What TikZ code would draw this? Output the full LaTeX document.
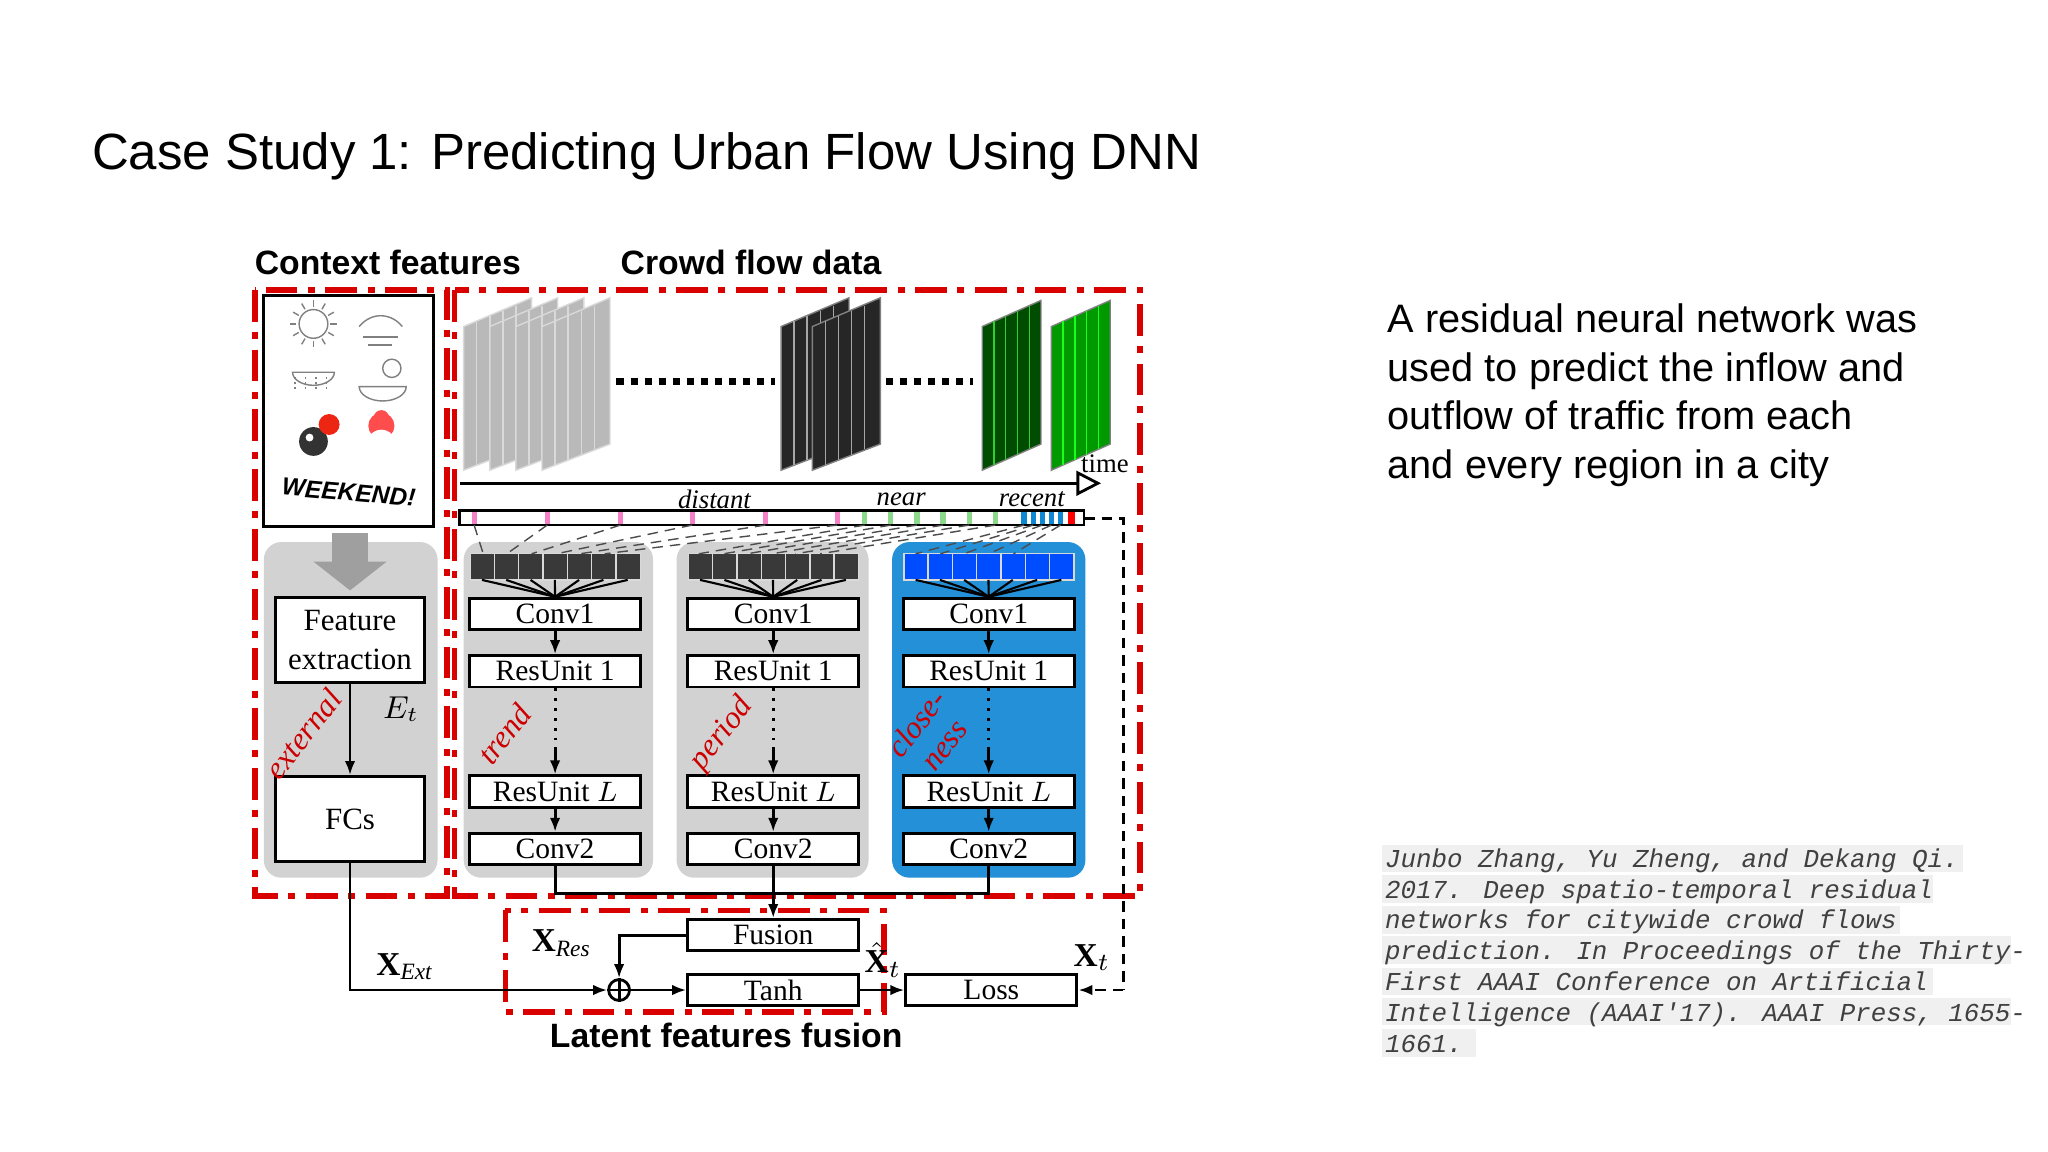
\documentclass[tikz,border=0pt]{standalone}
\usepackage{fontspec}
\setmainfont{Liberation Serif}
\newfontfamily\sans{Liberation Sans}
\newfontfamily\mono{Liberation Mono}
\usetikzlibrary{arrows.meta}
\begin{document}
\begin{tikzpicture}[x=0.013061cm,y=-0.013061cm,
 redbox/.style={draw=red!85!black,line width=1.6pt,dash pattern=on 9pt off 3pt on 2pt off 3pt},
 blk/.style={draw=black,fill=white,line width=0.8pt,minimum height=24*0.013061cm,inner sep=0pt,font=\fontsize{8.4}{9}\selectfont},
 lbl/.style={font=\sans\bfseries\fontsize{9.6}{11}\selectfont},
 arr/.style={-{Latex[length=4pt]},line width=0.8pt},
 panel/.style={fill=gray!35,rounded corners=5pt},
 red lab/.style={text=red!80!black,font=\itshape\fontsize{9}{10}\selectfont}]
\useasboundingbox (0,0) rectangle (1568,882);
\fill[white] (0,0) rectangle (1568,882);
% title
\node[anchor=base west,font=\sans\fontsize{14.5}{16}\selectfont,inner sep=0] (title) at (70,130) {Case Study 1: Predicting Urban Flow Using DNN};
% right text
\node[anchor=north west,align=left,inner sep=0,font=\sans\fontsize{11.3}{13.8}\selectfont] (desc) at (1062,232)
 {A residual neural network was\\used to predict the inflow and\\outflow of traffic from each\\and every region in a city};
\fill[gray!12] (1058,647) rectangle (1503,668);
\fill[gray!12] (1058,670) rectangle (1480,691);
\fill[gray!12] (1058,694) rectangle (1455,715);
\fill[gray!12] (1058,717) rectangle (1540,738);
\fill[gray!12] (1058,741) rectangle (1480,762);
\fill[gray!12] (1058,764) rectangle (1540,785);
\fill[gray!12] (1058,788) rectangle (1130,809);
\node[anchor=north west,align=left,inner sep=0,text=gray!50!black,font=\mono\itshape\fontsize{7.35}{8.8}\selectfont] (cite) at (1060,649)
 {Junbo Zhang, Yu Zheng, and Dekang Qi.\\2017. Deep spatio-temporal residual\\networks for citywide crowd flows\\prediction. In Proceedings of the Thirty-\\First AAAI Conference on Artificial\\Intelligence (AAAI'17). AAAI Press, 1655-\\1661.};
% headers
\node[lbl,anchor=base] (cf) at (297,210) {Context features};
\node[lbl,anchor=base] (cfd) at (575,210) {Crowd flow data};
\node[lbl,anchor=base] (lff) at (556,802) {Latent features fusion};
% red boxes
\draw[redbox] (195,222) rectangle (342,686);
\draw[redbox] (348,222) rectangle (873,686);
\draw[redbox] (387,697) rectangle (677,775);
% context icons
\draw[line width=0.8pt] (202,226) rectangle (332,403);
\draw[gray] (240,248) circle (11);
\foreach \a in {0,30,...,330} \draw[gray] (240,248)++(\a:13) -- ++(\a:5);
\draw[gray] (275,250) .. controls (285,238) and (300,240) .. (308,250);
\draw[gray] (278,258) -- (305,258) (282,264) -- (300,264);
\draw[gray] (224,285) arc (180:0:16 and 10) -- cycle;
\foreach \x in {226,234,242,250} \draw[gray,densely dotted] (\x,289) -- (\x,299);
\draw[gray] (275,296) arc (180:0:18 and 11) -- cycle;
\draw[gray] (300,282) circle (7);
\fill[black!80] (240,338) circle (11); \fill[white] (237,335) circle (3);
\fill[red!70!brown] (252,325) circle (8);
\fill[red!70] (292,326) circle (10); \fill[white] (292,340) circle (11); \fill[red!70] (292,320) circle (6);
\node[font=\sans\bfseries\itshape\fontsize{7}{8}\selectfont,rotate=-5] (wk) at (267,377) {WEEKEND!};
% left panel
\fill[panel] (202,415) rectangle (335,672);
\fill[gray!75] (254,408) rectangle (282,430); \fill[gray!75] (240,430) -- (296,430) -- (268,452) -- cycle;
\node[blk,minimum width=114*0.013061cm,minimum height=65*0.013061cm,align=center,font=\fontsize{8.8}{11}\selectfont] (fe) at (268,490) {Feature\\extraction};
\node[blk,minimum width=114*0.013061cm,minimum height=65*0.013061cm,font=\fontsize{8.8}{10}\selectfont] (fcs) at (268,627) {FCs};
\draw[arr] (fe) -- (fcs);
\node[red lab,rotate=52] (ext) at (232,562) {external};
\node[font=\itshape\fontsize{8.8}{10}\selectfont] (et) at (307,543) {$E_t$};
% frames
\foreach \x in {355,375,395,415} {\fill[gray!55,draw=gray!30] (\x,250) -- (\x+52,228) -- (\x+52,340) -- (\x,360) -- cycle;
 \foreach \k in {1,...,4} \draw[white!70!gray] (\x+\k*10,250-\k*4) -- (\x+\k*10,360-\k*4);}
\foreach \x in {598,622} {\fill[gray!30!black,draw=gray] (\x,250) -- (\x+52,228) -- (\x+52,340) -- (\x,360) -- cycle;
 \foreach \k in {1,...,4} \draw[gray!70] (\x+\k*10,250-\k*4) -- (\x+\k*10,360-\k*4);}
\fill[green!30!black,draw=gray] (752,250) -- (797,230) -- (797,340) -- (752,360) -- cycle;
\foreach \k in {1,...,4} \draw[green!60!gray] (752+\k*9,250-\k*4) -- (752+\k*9,360-\k*4);
\fill[green!60!black,draw=gray] (805,250) -- (850,230) -- (850,340) -- (805,360) -- cycle;
\foreach \k in {1,...,4} \draw[green!90!white] (805+\k*9,250-\k*4) -- (805+\k*9,360-\k*4);
\draw[line width=2pt,dotted] (472,292) -- (593,292);
\draw[line width=2pt,dotted] (678,292) -- (745,292);
% timeline
\coordinate (t0) at (352,370);
\coordinate (t1) at (843,370);
\draw[-{Triangle[open,length=7pt,width=7pt]},line width=0.8pt] (t0) -- (t1);
\node[font=\fontsize{7.6}{9}\selectfont] (time) at (846,355) {time};
\node[font=\itshape\fontsize{7.6}{9}\selectfont] (dist) at (547,382) {distant};
\node[font=\itshape\fontsize{7.6}{9}\selectfont] (near) at (690,382) {near};
\node[font=\itshape\fontsize{7.6}{9}\selectfont] (rec) at (790,382) {recent};
\draw[line width=0.8pt] (352,391) rectangle (830,402);
\foreach \x in {363,419,475,530,586,641} \fill[magenta!50] (\x-2,392) rectangle (\x+2,401);
\foreach \x in {662,682,702,722,742,762} \fill[green!50!gray!60] (\x-2,392) rectangle (\x+2,401);
\foreach \x in {784,791,798,805,812} \fill[cyan!70!blue] (\x-2,392) rectangle (\x+2,401);
\fill[red] (818,392) rectangle (823,401);
% panels
\fill[panel] (355,415) rectangle (500,672);
\fill[panel] (518,415) rectangle (665,672);
\fill[cyan!70!blue!90,rounded corners=5pt] (683,415) rectangle (831,672);
\foreach \cx/\nm/\col in {425/T/gray!45!black,592/P/gray!45!black,757/C/blue!70!cyan} {
 \foreach \i in {0,...,6} \fill[\col,draw=white!70!gray] (\cx-65+\i*18.6,424) rectangle (\cx-65+\i*18.6+18.6,444);
 \node[blk,minimum width=131*0.013061cm] (c1\nm) at (\cx,470) {Conv1};
 \foreach \i in {0,...,6} \draw[line width=0.6pt] (\cx-56+\i*18.6,444) -- (c1\nm.north);
 \node[blk,minimum width=131*0.013061cm] (r1\nm) at (\cx,514) {ResUnit 1};
 \node[blk,minimum width=131*0.013061cm] (rl\nm) at (\cx,606) {ResUnit $L$};
 \node[blk,minimum width=131*0.013061cm] (c2\nm) at (\cx,650) {Conv2};
 \draw[arr] (c1\nm) -- (r1\nm);
 \draw[line width=0.8pt,dotted] (r1\nm) -- (\cx,572);
 \draw[arr] (\cx,572) -- (rl\nm);
 \draw[arr] (rl\nm) -- (c2\nm);
}
% dashed links from ticks
\foreach \x/\y in {363/370,419/388,475/407,530/426,586/444,641/463} \draw[densely dashed,gray!60!black] (\x,402) -- (\y,424);
\foreach \x/\y in {662/535,682/554,702/572,722/591,742/609,762/628} \draw[densely dashed,gray!60!black] (\x,402) -- (\y,424);
\foreach \x/\y in {784/701,791/720,798/738,805/757,812/776} \draw[densely dashed,gray!60!black] (\x,402) -- (\y,424);
\node[red lab,rotate=52] (tr) at (386,562) {trend};
\node[red lab,rotate=52] (pe) at (553,562) {period};
\node[red lab,rotate=52,align=center] (cl) at (712,562) {close-\\ness};
% fusion
\node[blk,minimum width=131*0.013061cm] (fus) at (592,716) {Fusion};
\node[blk,minimum width=131*0.013061cm] (tanh) at (592,758) {Tanh};
\node[blk,minimum width=131*0.013061cm] (loss) at (759,758) {Loss};
\node[circle,draw,line width=0.8pt,inner sep=0pt,minimum size=16*0.013061cm] (plus) at (474,758) {};
\draw[line width=0.8pt] (plus.north) -- (plus.south) (plus.west) -- (plus.east);
\draw[line width=0.8pt] (c2T.south) -- (425,684) -- (757,684) -- (c2C.south);
\draw[line width=0.8pt] (c2P.south) -- (592,684);
\draw[arr] (592,684) -- (fus);
\draw[arr] (fus.west) -- (474,716) -- (plus);
\draw[arr] (fcs.south) -- (268,758) -- (plus);
\draw[arr] (plus) -- (tanh);
\draw[arr] (tanh) -- (loss);
\coordinate (dend) at (860,397);
\draw[densely dashed,line width=0.8pt] (830,397) -- (dend) -- (860,758);
\draw[densely dashed,arr] (860,758) -- (loss);
\node[font=\bfseries\fontsize{9.5}{10}\selectfont] (xext) at (310,740) {$\mathbf{X}_{\mathit{Ext}}$};
\node[font=\bfseries\fontsize{9.5}{10}\selectfont] (xres) at (430,722) {$\mathbf{X}_{\mathit{Res}}$};
\node[font=\fontsize{9.5}{10}\selectfont] (xh) at (676,735) {$\hat{\mathbf{X}}_t$};
\node[font=\fontsize{9.5}{10}\selectfont] (xt) at (836,733) {$\mathbf{X}_t$};
\end{tikzpicture}
\end{document}
